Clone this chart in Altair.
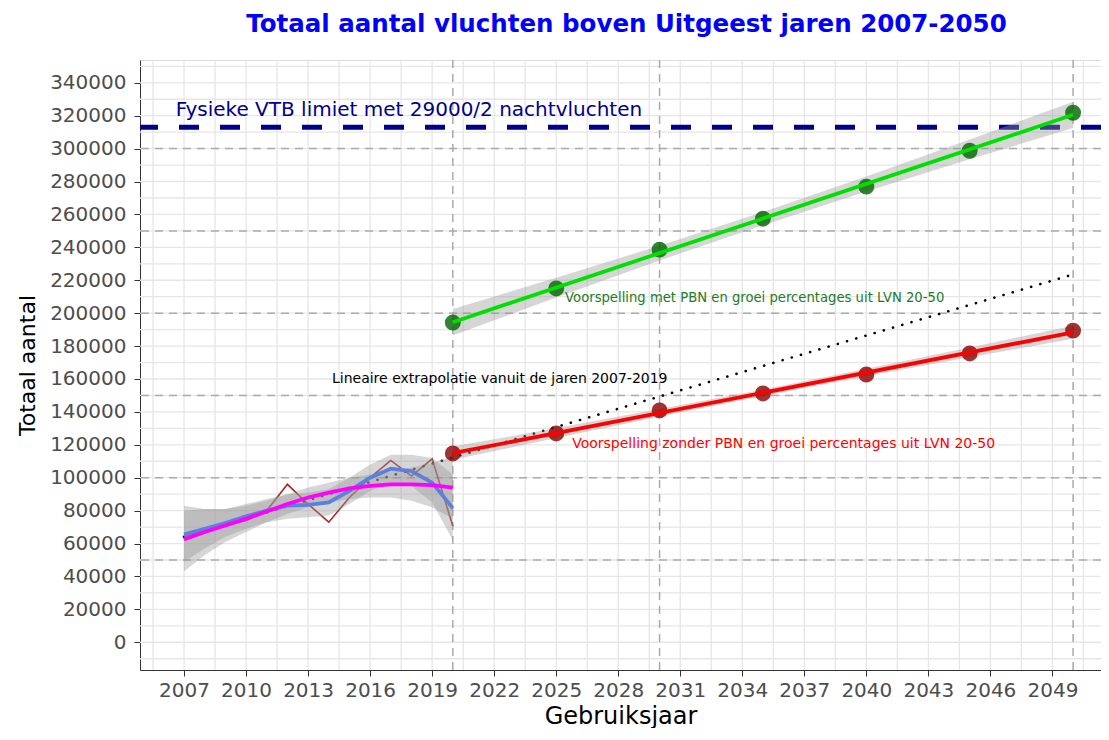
import altair as alt
import pandas as pd
import numpy as np

# ---------------- data ----------------
hist_years = list(range(2007, 2021))
hist_values = [64000, 68000, 72000, 74000, 80000, 96000, 84000, 73000, 88000,
               100000, 110500, 101000, 111500, 70600]

blue_values = [65500, 69000, 72500, 76500, 80000, 83000, 83500, 85000, 92000,
               100000, 105500, 104000, 97000, 81500]
blue_lo = [49000, 57000, 64000, 69000, 73000, 75000, 76000, 77000, 84000,
           92000, 97000, 95000, 85000, 62000]
blue_hi = [83000, 81000, 81000, 84000, 87000, 90000, 91000, 93000, 100000,
           108000, 114000, 114000, 112000, 102000]

mag_values = [62500, 67000, 71000, 75000, 79500, 84000, 88000, 91000, 93500,
              95000, 96000, 96000, 95500, 94000]
mag_lo = [43000, 53000, 61000, 67000, 73000, 78000, 82000, 85000, 87000,
          88000, 88000, 86000, 82000, 75000]
mag_hi = [80000, 81000, 81000, 83000, 86000, 90000, 94000, 97000, 100000,
          102000, 104000, 106000, 109000, 113000]

fc_years = [2020, 2025, 2030, 2035, 2040, 2045, 2050]
green_values = [194300, 215000, 238600, 257400, 276900, 298700, 321800]
green_lo = [186500, 209500, 232000, 253500, 274000, 293500, 312500]
green_hi = [202500, 221500, 241000, 261500, 283000, 305500, 328500]

red_values = [114750, 126900, 140900, 151200, 162700, 175500, 189400]
red_lo = [110900, 124150, 137100, 149650, 161600, 173150, 184400]
red_hi = [118900, 130150, 141700, 153650, 166200, 179150, 192400]

vtb_limit = 313000
ref_years = [2020, 2030, 2050]
ref_levels = [50000, 100000, 150000, 200000, 250000, 300000]

x_ticks = list(range(2007, 2050, 3))
y_ticks = list(range(0, 340001, 20000))

# ---------------- tables ----------------
hist = pd.DataFrame({"year": hist_years, "value": hist_values})
blue = pd.DataFrame({"year": hist_years, "value": blue_values, "lo": blue_lo, "hi": blue_hi})
mag = pd.DataFrame({"year": hist_years, "value": mag_values, "lo": mag_lo, "hi": mag_hi})
green = pd.DataFrame({"year": fc_years, "value": green_values, "lo": green_lo, "hi": green_hi})
red = pd.DataFrame({"year": fc_years, "value": red_values, "lo": red_lo, "hi": red_hi})

FONT = "DejaVu Sans"
xscale = alt.Scale(domain=[2004.87, 2051.35], nice=False, zero=False)
yscale = alt.Scale(domain=[-16850, 353850], nice=False, zero=False)
xaxis = alt.Axis(values=x_ticks, format="d", grid=False, title="Gebruiksjaar",
                 labelFont=FONT, labelFontSize=20, labelColor="#4D4D4D",
                 titleFont=FONT, titleFontSize=24, titleFontWeight="normal", titleColor="#000000",
                 tickColor="#333333", tickSize=6, labelPadding=4, titlePadding=4,
                 domainColor="#333333", domainWidth=1, labelFlush=False)
yaxis = alt.Axis(values=y_ticks, format="d", grid=False, title="Totaal aantal",
                 labelFont=FONT, labelFontSize=20, labelColor="#4D4D4D",
                 titleFont=FONT, titleFontSize=22, titleFontWeight="normal", titleColor="#000000",
                 tickColor="#333333", tickSize=6, labelPadding=8, titlePadding=10,
                 domainColor="#333333", domainWidth=1, labelFlush=False)


def X(field="year"):
    return alt.X(f"{field}:Q", scale=xscale, axis=xaxis, title="Gebruiksjaar")


def Y(field="value"):
    return alt.Y(f"{field}:Q", scale=yscale, axis=yaxis, title="Totaal aantal")


GRID = "#E6E6E6"
grid_x = pd.DataFrame({"year": np.arange(2005.5, 2051.0, 1.5)})
grid_y = pd.DataFrame({"value": np.arange(-10000, 350001, 10000)})

layers = []
layers.append(alt.Chart(grid_x).mark_rule(color=GRID, strokeWidth=1.3).encode(x=X()))
layers.append(alt.Chart(grid_y).mark_rule(color=GRID, strokeWidth=1.3).encode(y=Y()))

# reference dashed lines
layers.append(alt.Chart(pd.DataFrame({"value": ref_levels})).mark_rule(
    color="#AAAAAA", strokeWidth=1.5, strokeDash=[8, 6]).encode(y=Y()))
layers.append(alt.Chart(pd.DataFrame({"year": ref_years})).mark_rule(
    color="#AAAAAA", strokeWidth=1.5, strokeDash=[8, 6]).encode(x=X()))

# VTB limit
layers.append(alt.Chart(pd.DataFrame({"value": [vtb_limit]})).mark_rule(
    color="#00008B", strokeWidth=5, strokeDash=[20, 21]).encode(y=Y()))

# historical line
layers.append(alt.Chart(hist).mark_line(color="#A52A2A", strokeWidth=1.6).encode(x=X(), y=Y()))

# linear extrapolation 2007-2019
layers.append(alt.Chart(hist).transform_filter("datum.year <= 2019").transform_regression(
    "year", "value", extent=[2007, 2050]).mark_line(
    color="#000000", strokeWidth=2.6, strokeDash=[0.1, 9.5], strokeCap="round").encode(x=X(), y=Y()))

# bands
for df in (blue, mag):
    layers.append(alt.Chart(df).mark_area(color="#999999", opacity=0.4).encode(
        x=X(), y=Y("lo"), y2="hi:Q"))
layers.append(alt.Chart(blue).mark_line(color="#5B80DE", strokeWidth=3.8).encode(x=X(), y=Y()))
layers.append(alt.Chart(mag).mark_line(color="#FF00FF", strokeWidth=3.8).encode(x=X(), y=Y()))

# forecasts
for df, pcol, lcol in ((green, "#006400", "#00E000"), (red, "#8B0000", "#FF0000")):
    layers.append(alt.Chart(df).mark_area(color="#999999", opacity=0.4).encode(
        x=X(), y=Y("lo"), y2="hi:Q"))
    layers.append(alt.Chart(df).mark_circle(color=pcol, opacity=0.8, size=254).encode(x=X(), y=Y()))
    layers.append(alt.Chart(df).transform_regression("year", "value", extent=[2020, 2050]).mark_line(
        color=lcol, strokeWidth=3.8).encode(x=X(), y=Y()))

# annotations
labels = pd.DataFrame({
    "year": [2017.88, 2034.6, 2022.27, 2036.0],
    "value": [323600, 209500, 159700, 120200],
    "text": ["Fysieke VTB limiet met 29000/2 nachtvluchten",
             "Voorspelling met PBN en groei percentages uit LVN 20-50",
             "Lineaire extrapolatie vanuit de jaren 2007-2019",
             "Voorspelling zonder PBN en groei percentages uit LVN 20-50"],
    "col": ["#00008B", "#1E7B1E", "#000000", "#FF0000"],
    "size": [20, 13.2, 14, 14],
})
layers.append(alt.Chart(labels).mark_text(font=FONT, align="center", baseline="middle").encode(
    x=X(), y=Y(), text="text:N",
    color=alt.Color("col:N", scale=None),
    size=alt.Size("size:Q", scale=None)))

chart = alt.layer(*layers).properties(
    width=961, height=610,
    autosize=alt.AutoSizeParams(type="none"),
    padding={"left": 132, "top": 52, "right": 0, "bottom": 58},
    title=alt.TitleParams("Totaal aantal vluchten boven Uitgeest jaren 2007-2050",
                          font=FONT, fontSize=24.5, fontWeight="bold", color="#0000FF",
                          anchor="middle", frame="group", offset=22, dx=6),
).configure_view(stroke=None).configure(background="white")

chart.save("out.html", embed_options={"renderer": "svg", "actions": False})
